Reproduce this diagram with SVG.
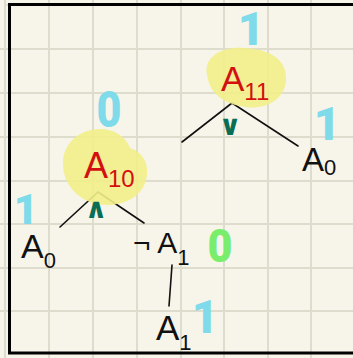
<svg xmlns="http://www.w3.org/2000/svg" width="353" height="358" viewBox="0 0 353 358">
<style>
.grid{stroke:#dedccd;stroke-width:2}
.blob{fill:#f2ee8a;opacity:0.9}
.red{font-family:"Liberation Sans","DejaVu Sans",sans-serif;fill:#d40f0f}
.blk{font-family:"Liberation Sans","DejaVu Sans",sans-serif;fill:#111}
.cy{font-family:Roboto,"Noto Sans",sans-serif;font-weight:900;fill:#7fdbea;text-anchor:middle}
.gr{font-family:Roboto,"Noto Sans",sans-serif;font-weight:900;fill:#7aee6c;text-anchor:middle}
.op{font-family:"DejaVu Sans",sans-serif;font-weight:bold;fill:#0a6e55;text-anchor:middle}
.edge{stroke:#111;stroke-width:1.6;fill:none;stroke-linecap:round}
</style>
<rect width="353" height="358" fill="#f7f5e9"/>
<g id="grid">
<path class="grid" d="M5 0V358M49 0V358M93 0V358M137 0V358M181 0V358M224 0V358M268 0V358M311 0V358M5 5H353M0 49H353M0 93H353M0 137H353M0 181H353M0 224H353M0 268H353M0 311H353"/>
</g>
<rect x="9.5" y="4.5" width="350" height="348.5" fill="none" stroke="#000" stroke-width="3"/>
<g id="connectors">
<path class="edge" d="M232 103L182 142M232 103L298 146"/>
<path class="edge" d="M98 192L60 227M98 192L144 223"/>
<path class="edge" d="M172 265L169 306"/>
</g>
<g id="A11">
<path class="blob" d="M207 75C203 55 225 46 244 48C268 49 287 58 286 80C285 100 265 110 245 107C225 104 210 95 207 75Z"/>
<text class="red" x="221" y="91" font-size="35">A<tspan font-size="24" dy="9">11</tspan></text>
<text class="cy" x="251" y="45" font-size="46">1</text>
<text class="op" x="230" y="135" font-size="28">∨</text>
</g>
<g id="A10">
<path class="blob" d="M63 165C62 143 80 129 100 129C115 129 126 137 130 148C142 152 148 162 147 174C146 192 130 204 110 205C85 206 64 190 63 165Z"/>
<text class="red" x="84" y="178" font-size="36">A<tspan font-size="24" dy="9">10</tspan></text>
<text class="cy" x="109" y="127" font-size="50" textLength="25" lengthAdjust="spacingAndGlyphs">0</text>
<text class="op" x="96" y="218" font-size="28">∧</text>
</g>
<g id="A0_right">
<text class="blk" x="302" y="171" font-size="33">A<tspan font-size="22" dy="4">0</tspan></text>
<text class="cy" x="327" y="140" font-size="46">1</text>
</g>
<g id="A0_left">
<text class="blk" x="21" y="258" font-size="34">A<tspan font-size="22" dy="10">0</tspan></text>
<text class="cy" x="26" y="224" font-size="42">1</text>
</g>
<g id="notA1">
<text class="blk" x="133" y="253" font-size="30">¬ A<tspan font-size="22" dy="12">1</tspan></text>
<text class="gr" x="220" y="262" font-size="46" textLength="25" lengthAdjust="spacingAndGlyphs">0</text>
</g>
<g id="A1">
<text class="blk" x="156" y="340" font-size="35">A<tspan font-size="22" dy="10">1</tspan></text>
<text class="cy" x="205" y="333" font-size="46">1</text>
</g>
</svg>
